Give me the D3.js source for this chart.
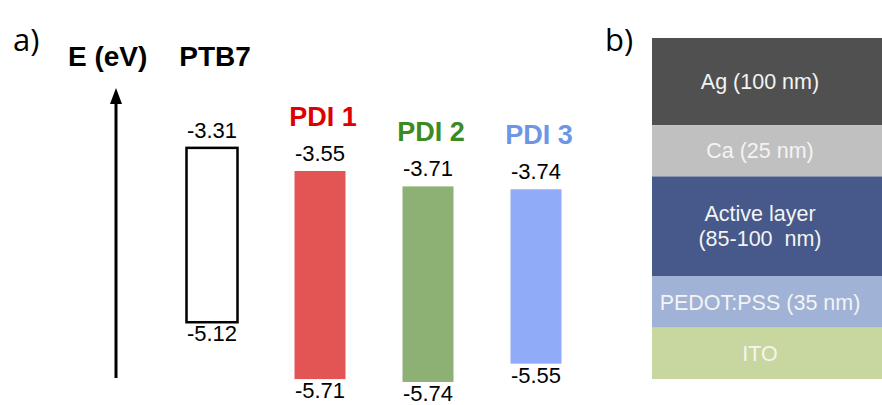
<!DOCTYPE html>
<html>
<head>
<meta charset="utf-8">
<script src="https://cdn.jsdelivr.net/npm/d3@7.9.0/dist/d3.min.js"></script>
<style>
  body { margin: 0; background: #fff; }
  svg { display: block; }
  text { font-family: 'Liberation Sans', Arial, Helvetica, sans-serif; }
</style>
</head>
<body>
<svg width="882" height="405"></svg>
<script>
// energy levels (eV)
const materials = ['PTB7', 'PDI 1', 'PDI 2', 'PDI 3'];
const lumo = [-3.31, -3.55, -3.71, -3.74];
const homo = [-5.12, -5.71, -5.74, -5.55];
const fillColors = ['none', '#e35555', '#8db174', '#90acf8'];
const nameColors = ['#000000', '#dd0000', '#3b8a22', '#6e96e6'];

// device stack, top to bottom
const layers = ['Ag (100 nm)', 'Ca (25 nm)', 'Active layer\n(85-100  nm)', 'PEDOT:PSS (35 nm)', 'ITO'];
const layerWeight = [1.7, 1, 1.95, 1, 1];
const layerColors = ['#505050', '#c0c0c0', '#46598a', '#a0b2d6', '#c8d6a0'];

const FONT = "'Liberation Sans', Arial, sans-serif";
const svg = d3.select('svg');

// ---- panel a) ----
svg.append('text').attr('x', 13).attr('y', 51)
  .style('font-family', "'Open Sans', sans-serif")
  .attr('font-size', 31).text('a)');

svg.append('text').attr('x', 68).attr('y', 66)
  .style('font-family', FONT)
  .attr('font-size', 28).attr('font-weight', 'bold').text('E (eV)');

// energy axis arrow
svg.append('line')
  .attr('x1', 116).attr('x2', 116)
  .attr('y1', 378).attr('y2', 100)
  .attr('stroke', '#000').attr('stroke-width', 3);
svg.append('path')
  .attr('d', d3.line()([[116, 88], [122, 104], [110, 104]]) + 'Z')
  .attr('fill', '#000');

const y = d3.scaleLinear().domain([-3, -6]).range([118, 407]);
const x = d3.scalePoint().domain(materials).range([212, 536]);
const barW = 51;

const data = materials.map((m, i) => ({
  name: m, lumo: lumo[i], homo: homo[i], fill: fillColors[i], color: nameColors[i], i
}));

const g = svg.append('g').selectAll('g').data(data).join('g');

g.append('rect')
  .attr('x', d => x(d.name) - barW / 2)
  .attr('y', d => y(d.lumo))
  .attr('width', barW)
  .attr('height', d => y(d.homo) - y(d.lumo))
  .attr('fill', d => d.fill === 'none' ? '#fff' : d.fill)
  .attr('stroke', d => d.fill === 'none' ? '#000' : 'none')
  .attr('stroke-width', 2.5);

g.append('text')
  .attr('x', d => x(d.name)).attr('y', d => y(d.lumo) - 10)
  .attr('text-anchor', 'middle').attr('font-size', 22)
  .style('font-family', FONT)
  .text(d => d.lumo.toFixed(2));

g.append('text')
  .attr('x', d => x(d.name)).attr('y', d => y(d.homo) + 19)
  .attr('text-anchor', 'middle').attr('font-size', 22)
  .style('font-family', FONT)
  .text(d => d.homo.toFixed(2));

// donor name sits in the header row, acceptor names above their bars
g.append('text')
  .attr('x', d => x(d.name) + 3)
  .attr('y', d => d.i === 0 ? 66 : y(d.lumo) - 45)
  .attr('text-anchor', 'middle')
  .attr('font-size', d => d.i === 0 ? 28 : 27)
  .attr('font-weight', 'bold')
  .style('font-family', FONT)
  .attr('fill', d => d.color)
  .text(d => d.name);

// ---- panel b) ----
svg.append('text').attr('x', 605).attr('y', 51)
  .style('font-family', "'Open Sans', sans-serif")
  .attr('font-size', 31).text('b)');

const cum = d3.cumsum(layerWeight);
const ys = d3.scaleLinear().domain([0, d3.sum(layerWeight)]).range([38, 379]);
const stackX0 = 652, stackX1 = 882;

const lg = svg.append('g').selectAll('g').data(layers).join('g');

lg.append('rect')
  .attr('x', stackX0).attr('width', stackX1 - stackX0)
  .attr('y', (d, i) => ys(cum[i] - layerWeight[i]))
  .attr('height', (d, i) => ys(cum[i]) - ys(cum[i] - layerWeight[i]))
  .attr('fill', (d, i) => layerColors[i]);

lg.each(function (d, i) {
  const lines = d.split('\n');
  const mid = (ys(cum[i] - layerWeight[i]) + ys(cum[i])) / 2;
  const lh = 25;
  const t = d3.select(this).append('text')
    .attr('text-anchor', 'middle')
    .attr('font-size', 21.5)
    .style('font-family', FONT)
    .attr('fill', '#f4f4f4')
    .style('white-space', 'pre');
  lines.forEach((ln, k) => {
    t.append('tspan')
      .attr('x', (stackX0 + stackX1) / 2 - 7)
      .attr('y', mid + 7.5 + (k - (lines.length - 1) / 2) * lh)
      .text(ln);
  });
});
</script>
</body>
</html>
